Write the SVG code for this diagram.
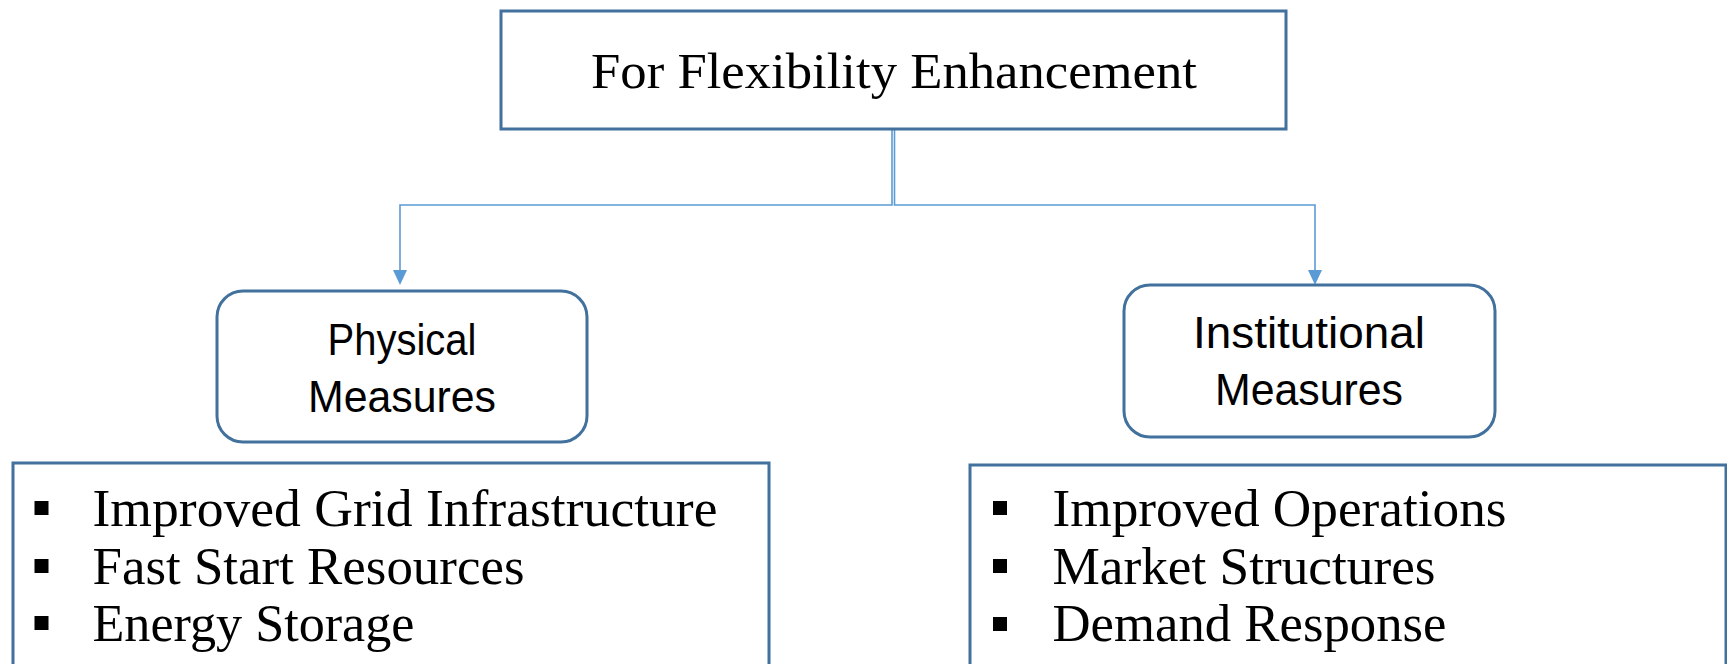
<svg xmlns="http://www.w3.org/2000/svg" width="1727" height="664" viewBox="0 0 1727 664">
<defs>
<style>
.box{fill:#ffffff;stroke:#41719C;stroke-width:3}
.conn{fill:none;stroke:#5B9BD5;stroke-width:1.6}
.serif{font-family:"Liberation Serif","Times New Roman",serif;fill:#000}
.sans{font-family:"Liberation Sans",Arial,sans-serif;fill:#000;font-size:44px;text-anchor:middle}
.bul{fill:#000}
</style>
</defs>
<rect width="1727" height="664" fill="#ffffff"/>
<g id="connectors">
<path class="conn" d="M892,129 V205 H400 V271"/>
<polygon points="393,270 407,270 400,285" fill="#5B9BD5"/>
<path class="conn" d="M894.5,129 V205 H1315 V271"/>
<polygon points="1308,270 1322,270 1315,285" fill="#5B9BD5"/>
</g>
<g id="top">
<rect class="box" x="501" y="11" width="785" height="118"/>
<text class="serif" x="894" y="88" font-size="51" text-anchor="middle" textLength="606" lengthAdjust="spacingAndGlyphs">For Flexibility Enhancement</text>
</g>
<g id="physical">
<rect class="box" x="217" y="291" width="370" height="151" rx="26"/>
<text class="sans" x="402" y="355" textLength="149" lengthAdjust="spacingAndGlyphs">Physical</text>
<text class="sans" x="402" y="412" textLength="188" lengthAdjust="spacingAndGlyphs">Measures</text>
</g>
<g id="institutional">
<rect class="box" x="1124" y="285" width="371" height="152" rx="26"/>
<text class="sans" x="1309" y="348" textLength="232" lengthAdjust="spacingAndGlyphs">Institutional</text>
<text class="sans" x="1309" y="405" textLength="188" lengthAdjust="spacingAndGlyphs">Measures</text>
</g>
<g id="physical-list">
<rect class="box" x="13" y="463" width="756" height="230"/>
<rect class="bul" x="34.5" y="501" width="14" height="14"/>
<rect class="bul" x="34.5" y="559" width="14" height="14"/>
<rect class="bul" x="34.5" y="616" width="14" height="14"/>
<text class="serif" font-size="53" x="92.5" y="526" textLength="625" lengthAdjust="spacingAndGlyphs">Improved Grid Infrastructure</text>
<text class="serif" font-size="53" x="92.5" y="584" textLength="432" lengthAdjust="spacingAndGlyphs">Fast Start Resources</text>
<text class="serif" font-size="53" x="92.5" y="641" textLength="322" lengthAdjust="spacingAndGlyphs">Energy Storage</text>
</g>
<g id="institutional-list">
<rect class="box" x="970" y="465" width="756" height="230"/>
<rect class="bul" x="993" y="501" width="14" height="14"/>
<rect class="bul" x="993" y="559" width="14" height="14"/>
<rect class="bul" x="993" y="617" width="14" height="14"/>
<text class="serif" font-size="53" x="1052.5" y="526" textLength="454" lengthAdjust="spacingAndGlyphs">Improved Operations</text>
<text class="serif" font-size="53" x="1052.5" y="584" textLength="383" lengthAdjust="spacingAndGlyphs">Market Structures</text>
<text class="serif" font-size="53" x="1052.5" y="641" textLength="394" lengthAdjust="spacingAndGlyphs">Demand Response</text>
</g>
</svg>
